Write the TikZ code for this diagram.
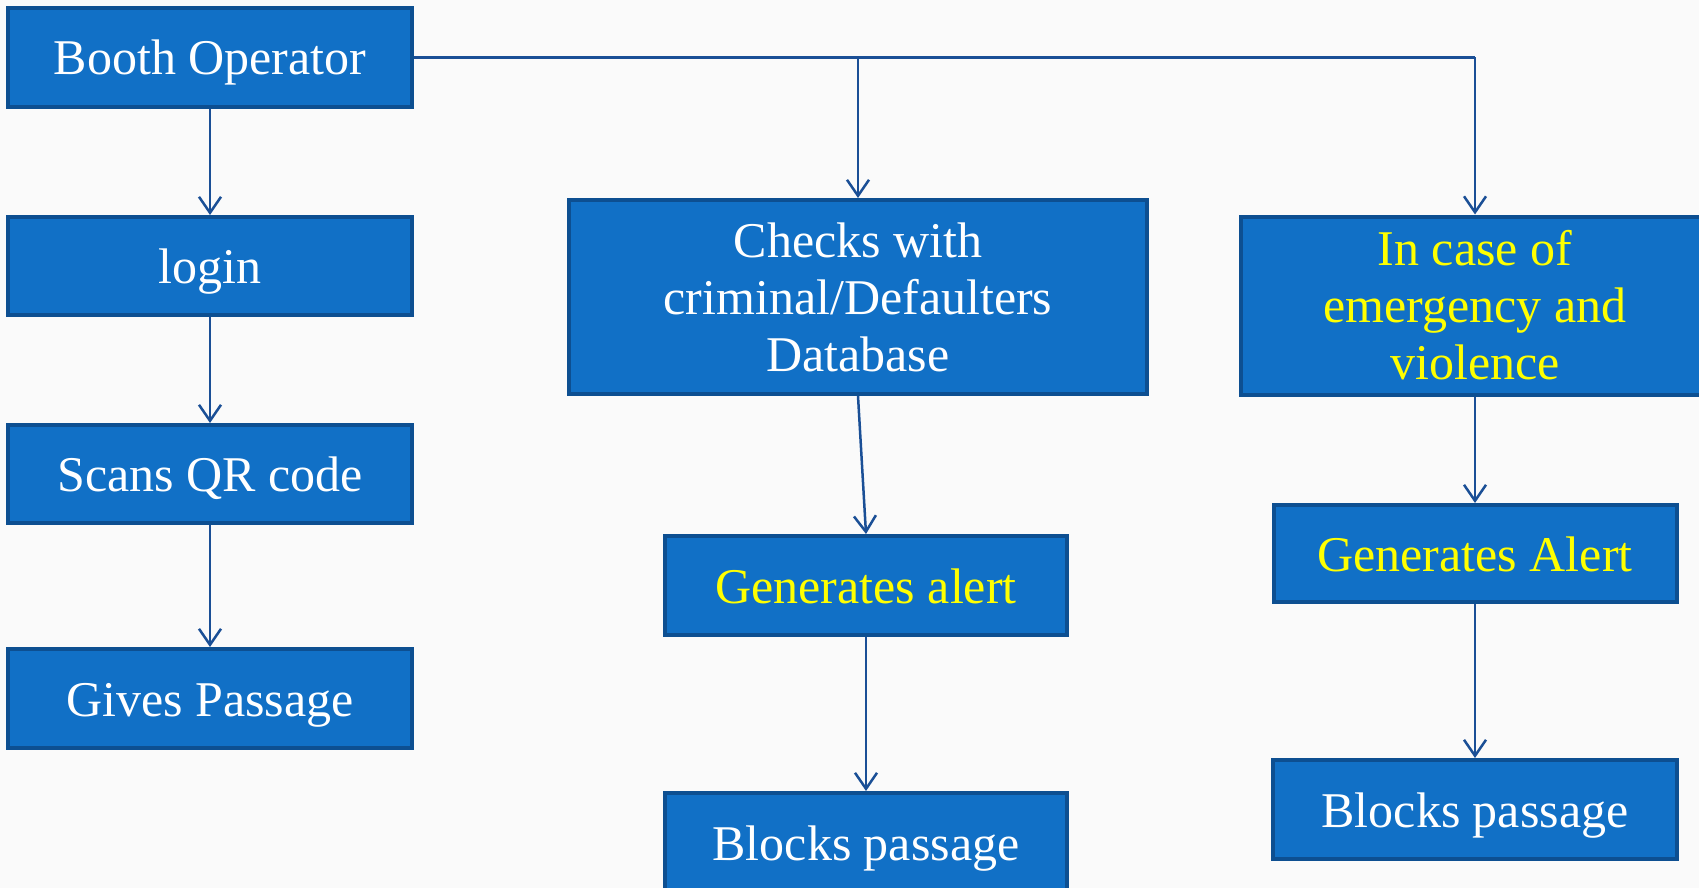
\documentclass[tikz,border=0pt]{standalone}
\usepackage{fontspec}
\setmainfont{Liberation Serif}
\usetikzlibrary{arrows.meta}
\definecolor{boxfill}{HTML}{1170C6}
\definecolor{boxline}{HTML}{0D4F91}
\definecolor{wire}{HTML}{1A4F96}
\definecolor{bg}{HTML}{FAFAFA}
\definecolor{ylw}{HTML}{FFFF00}
\begin{document}
\begin{tikzpicture}[x=1pt,y=-1pt,
  box/.style={draw=boxline, line width=4pt, fill=boxfill, text=white, inner sep=0pt,
    align=flush center, font=\fontsize{50}{57}\selectfont},
  oneline/.style={box, text height=35pt, text depth=0pt},
  wirearrow/.style={draw=wire, line width=2.5pt, -{Straight Barb[length=16pt,width=22pt,line width=2.5pt]}},
  wireline/.style={draw=wire, line width=2.5pt}]
\useasboundingbox (0,0) rectangle (1699,888);
\clip (0,0) rectangle (1699,888);
\fill[bg] (0,0) rectangle (1699,888);

\node[oneline, minimum width=404pt, minimum height=99pt] (boot) at (210,57.5) {Booth Operator};
\node[oneline, minimum width=404pt, minimum height=98pt] (login) at (210,266) {login};
\node[oneline, minimum width=404pt, minimum height=98pt] (scan) at (210,474) {Scans QR code};
\node[oneline, minimum width=404pt, minimum height=99pt] (pass) at (210,698.5) {Gives Passage};

\node[box, minimum width=578pt, minimum height=194pt, text width=560pt] (check) at (858,297) {Checks with\\criminal/Defaulters\\Database};
\node[oneline, text=ylw, minimum width=402pt, minimum height=99pt] (gen1) at (866,585.5) {Generates alert};
\node[oneline, minimum width=402pt, minimum height=99pt] (blk1) at (866,842.5) {Blocks passage};

\node[box, text=ylw, minimum width=468pt, minimum height=178pt, text width=450pt] (emerg) at (1475,305.5) {In case of\\emergency and\\violence};
\node[oneline, text=ylw, minimum width=403pt, minimum height=97pt] (gen2) at (1475,553.5) {Generates Alert};
\node[oneline, minimum width=404pt, minimum height=99pt] (blk2) at (1475,809.5) {Blocks passage};

\coordinate (j1) at (858,57.5);
\coordinate (j2) at (1475,57.5);

\draw[wirearrow] (boot) -- (login);
\draw[wirearrow] (login) -- (scan);
\draw[wirearrow] (scan) -- (pass);
\draw[wireline] (boot.east |- j1) -- (j2);
\draw[wirearrow] (j1) -- (check.north);
\draw[wirearrow] (j2) -- (emerg.north);
\draw[wirearrow] (check.south) -- (gen1.north);
\draw[wirearrow] (gen1) -- (blk1);
\draw[wirearrow] (emerg) -- (gen2);
\draw[wirearrow] (gen2) -- (blk2);
\end{tikzpicture}
\end{document}
